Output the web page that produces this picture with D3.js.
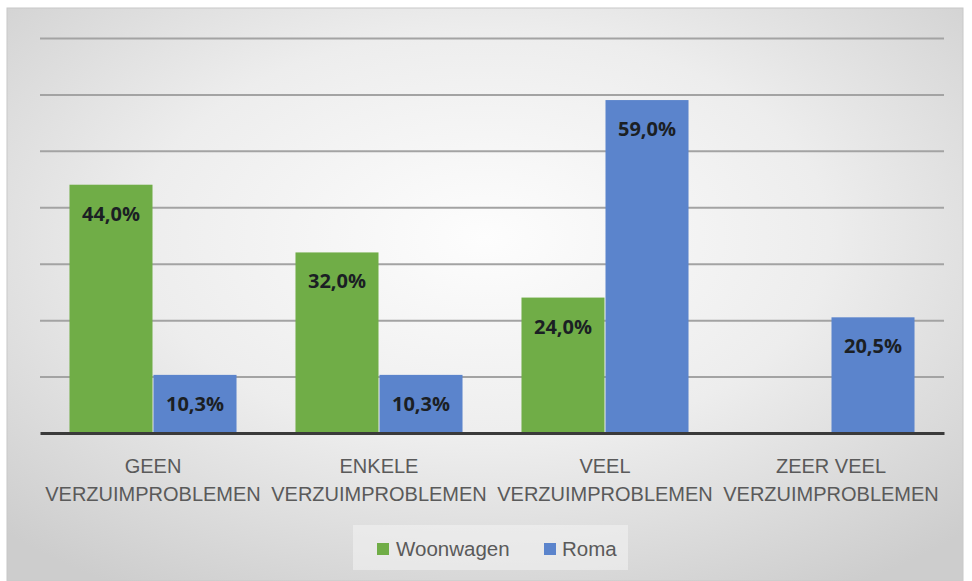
<!DOCTYPE html>
<html>
<head>
<meta charset="utf-8">
<script src="https://cdn.jsdelivr.net/npm/d3@7"></script>
<style>
  body { margin: 0; background: #fff; }
  svg { display: block; }
</style>
</head>
<body>
<svg id="chart" width="972" height="581"></svg>
<script>
// categories (two lines each) and series values
const categories = ['GEEN VERZUIMPROBLEMEN', 'ENKELE VERZUIMPROBLEMEN', 'VEEL VERZUIMPROBLEMEN', 'ZEER VEEL VERZUIMPROBLEMEN'];
const catLines = [['GEEN', 'VERZUIMPROBLEMEN'], ['ENKELE', 'VERZUIMPROBLEMEN'], ['VEEL', 'VERZUIMPROBLEMEN'], ['ZEER VEEL', 'VERZUIMPROBLEMEN']];
const seriesNames = ['Woonwagen', 'Roma'];
const woonwagen = [44.0, 32.0, 24.0, null];
const roma = [10.3, 10.3, 59.0, 20.5];
const gridTicks = [10, 20, 30, 40, 50, 60, 70];
const colors = ['#70ad47', '#5b84cc'];

const svg = d3.select('#chart');
const W = 972, H = 581;

// background with radial gradient
const defs = svg.append('defs');
const grad = defs.append('radialGradient').attr('id', 'bg')
  .attr('cx', '50%').attr('cy', '40%').attr('r', '72%');
grad.append('stop').attr('offset', '0%').attr('stop-color', '#fdfdfd');
grad.append('stop').attr('offset', '50%').attr('stop-color', '#ededed');
grad.append('stop').attr('offset', '100%').attr('stop-color', '#cdcdcd');

svg.append('rect').attr('x', 7).attr('y', 8).attr('width', 956).attr('height', 573)
  .attr('fill', 'url(#bg)').attr('stroke', '#c8c8c8').attr('stroke-width', 1);

const margin = { left: 40, right: 28, top: 38, bottom: 148 };
const x0 = d3.scaleBand().domain(categories).range([margin.left, W - margin.right]).paddingInner(0).paddingOuter(0);
const y = d3.scaleLinear().domain([0, 70]).range([433, 38]);

// gridlines
svg.append('g')
  .attr('transform', `translate(${margin.left},0)`)
  .call(d3.axisLeft(y).tickValues(gridTicks).tickSize(-(W - margin.right - margin.left)).tickFormat(''))
  .call(g => g.select('.domain').remove())
  .call(g => g.selectAll('line').attr('stroke', '#a3a3a3').attr('stroke-width', 2));

// bars
const gapRatio = 0.69;
const bw = x0.bandwidth() / (2 + gapRatio);
const x1 = d3.scaleBand().domain(seriesNames).range([0, 2 * bw]);
const rows = categories.map((c, i) => ({ cat: c, vals: [woonwagen[i], roma[i]] }));

const groups = svg.append('g').selectAll('g').data(rows).join('g')
  .attr('transform', d => `translate(${x0(d.cat) + (x0.bandwidth() - 2 * bw) / 2},0)`);

groups.selectAll('rect').data(d => d.vals.map((v, j) => ({ v, s: seriesNames[j], j })).filter(e => e.v != null))
  .join('rect')
  .attr('x', e => x1(e.s) + 0.5)
  .attr('width', x1.bandwidth() - 1)
  .attr('y', e => y(e.v))
  .attr('height', e => y(0) - y(e.v))
  .attr('fill', e => colors[e.j]);

groups.selectAll('text').data(d => d.vals.map((v, j) => ({ v, s: seriesNames[j], j })).filter(e => e.v != null))
  .join('text')
  .attr('x', e => x1(e.s) + x1.bandwidth() / 2)
  .attr('y', e => y(e.v) + 36)
  .attr('text-anchor', 'middle')
  .attr('font-family', 'Open Sans, sans-serif')
  .attr('font-weight', 'bold')
  .attr('font-size', 20)
  .attr('fill', '#1b1f24')
  .text(e => d3.format('.1f')(e.v).replace('.', ',') + '%');

// baseline
svg.append('g')
  .attr('transform', `translate(0,${y(0)})`)
  .call(d3.axisBottom(x0).tickSize(0).tickFormat(''))
  .call(g => g.select('.domain').attr('stroke', '#3a3a3a').attr('stroke-width', 3));

// category labels
const labs = svg.append('g').selectAll('text').data(categories).join('text')
  .attr('x', d => x0(d) + x0.bandwidth() / 2)
  .attr('text-anchor', 'middle')
  .attr('font-family', 'Liberation Sans, Arial, sans-serif')
  .attr('font-size', 20)
  .attr('fill', '#5a5a5a');
labs.each(function (d, i) {
  const t = d3.select(this);
  catLines[i].forEach((ln, k) => {
    t.append('tspan').attr('x', x0(d) + x0.bandwidth() / 2).attr('y', 473 + k * 28).text(ln);
  });
});

// legend
const lg = svg.append('g');
lg.append('rect').attr('x', 353).attr('y', 525).attr('width', 275).attr('height', 45).attr('fill', '#f2f2f2').attr('opacity', 0.6);
const legendItems = [{ name: seriesNames[0], sx: 377, tx: 396 }, { name: seriesNames[1], sx: 544, tx: 562 }];
legendItems.forEach((it, i) => {
  lg.append('rect').attr('x', it.sx).attr('y', 543).attr('width', 12).attr('height', 12).attr('fill', colors[i]);
  lg.append('text').attr('x', it.tx).attr('y', 556)
    .attr('font-family', 'Liberation Sans, Arial, sans-serif')
    .attr('font-size', 20.5).attr('fill', '#5a5a5a').text(it.name);
});
</script>
</body>
</html>
